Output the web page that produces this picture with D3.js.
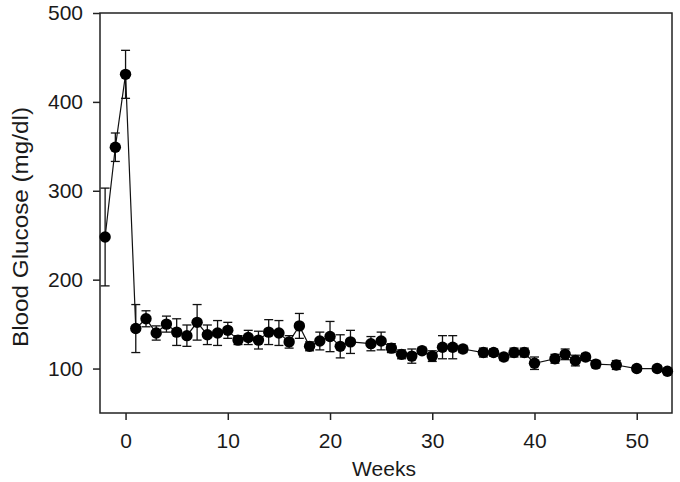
<!DOCTYPE html>
<html>
<head>
<meta charset="utf-8">
<script src="https://cdn.jsdelivr.net/npm/d3@7"></script>
<style>
  body { margin: 0; background: #fff; }
  text { font-family: "Liberation Sans", Arial, sans-serif; fill: #1a1a1a; }
</style>
</head>
<body>
<div id="wrapper"></div>
<script>
// weeks relative to treatment start
let weeks = [-2, -1, 0, 1, 2, 3, 4, 5, 6, 7, 8, 9, 10, 11, 12, 13, 14, 15, 16, 17, 18, 19, 20, 21, 22,
             24, 25, 26, 27, 28, 29, 30, 31, 32, 33, 35, 36, 37, 38, 39, 40, 42, 43, 44, 45, 46, 48, 50, 52, 53];
let glucose = [248, 349, 431, 145, 156, 140, 150, 141, 137, 152, 138, 140, 143, 132, 135, 132, 141, 140, 130, 148, 125, 131, 136, 125, 130,
               128, 131, 123, 116, 114, 120, 114, 124, 124, 122, 118, 118, 113, 118, 118, 106, 111, 116, 109, 113, 105, 104, 100, 100, 97];
let sem = [55, 16, 27, 27, 9, 8, 9, 15, 12, 20, 11, 14, 9, 5, 8, 10, 14, 14, 7, 14, 5, 10, 17, 13, 13,
           8, 10, 5, 5, 8, 4, 6, 13, 13, 4, 5, 4, 4, 5, 5, 7, 5, 6, 6, 4, 4, 5, 3, 3, 3];
let xTicks = [0, 10, 20, 30, 40, 50];
let yTicks = [100, 200, 300, 400, 500];

let data = weeks.map((w, i) => ({week: w, val: glucose[i], err: sem[i]}));

let W = 680, H = 482;
let margin = {left: 100, right: 8, top: 13, bottom: 69};

let svg = d3.select('#wrapper').append('svg').attr('width', W).attr('height', H);

let xScale = d3.scaleLinear().domain([-2.5, 53.45]).range([margin.left, W - margin.right]);
let yScale = d3.scaleLinear().domain([50, 500]).range([H - margin.bottom, margin.top]);

// frame
svg.append('rect')
  .attr('x', margin.left).attr('y', margin.top)
  .attr('width', W - margin.right - margin.left)
  .attr('height', H - margin.bottom - margin.top)
  .attr('fill', 'none').attr('stroke', '#222').attr('stroke-width', 1.5);

let xAxis = svg.append('g')
  .attr('transform', 'translate(0,' + (H - margin.bottom) + ')')
  .call(d3.axisBottom(xScale).tickValues(xTicks).tickSize(7).tickPadding(13));
let yAxis = svg.append('g')
  .attr('transform', 'translate(' + margin.left + ',0)')
  .call(d3.axisLeft(yScale).tickValues(yTicks).tickSize(7).tickPadding(10));

[xAxis, yAxis].forEach(a => {
  a.select('.domain').remove();
  a.selectAll('line').attr('stroke', '#222').attr('stroke-width', 1.5);
  a.selectAll('text').style('font-size', '21px').attr('fill', '#1a1a1a')
   .style('font-family', '"Liberation Sans", Arial, sans-serif');
});

// axis titles
svg.append('text').text('Weeks')
  .attr('x', (margin.left + W - margin.right) / 2 - 2).attr('y', 476)
  .attr('text-anchor', 'middle').style('font-size', '21px');
svg.append('text').text('Blood Glucose (mg/dl)')
  .attr('transform', 'translate(28,' + ((margin.top + H - margin.bottom) / 2 + 14) + ') rotate(-90)')
  .attr('text-anchor', 'middle').style('font-size', '22px')
  .attr('textLength', 240).attr('lengthAdjust', 'spacingAndGlyphs');

let plot = svg.append('g');

// connecting line
let lineGen = d3.line().x(d => xScale(d.week)).y(d => yScale(d.val));
plot.append('path').datum(data)
  .attr('d', lineGen).attr('fill', 'none').attr('stroke', '#111').attr('stroke-width', 1.2);

// error bars
let bars = plot.selectAll('.err').data(data).enter().append('g').classed('err', true);
bars.append('line')
  .attr('x1', d => xScale(d.week)).attr('x2', d => xScale(d.week))
  .attr('y1', d => yScale(d.val + d.err)).attr('y2', d => yScale(d.val - d.err));
bars.append('line')
  .attr('x1', d => xScale(d.week) - 4.5).attr('x2', d => xScale(d.week) + 4.5)
  .attr('y1', d => yScale(d.val + d.err)).attr('y2', d => yScale(d.val + d.err));
bars.append('line')
  .attr('x1', d => xScale(d.week) - 4.5).attr('x2', d => xScale(d.week) + 4.5)
  .attr('y1', d => yScale(d.val - d.err)).attr('y2', d => yScale(d.val - d.err));
bars.selectAll('line').attr('stroke', '#111').attr('stroke-width', 1.3);

// markers
plot.selectAll('.pt').data(data).enter().append('circle').classed('pt', true)
  .attr('cx', d => xScale(d.week)).attr('cy', d => yScale(d.val))
  .attr('r', 5.7).attr('fill', '#000');
</script>
</body>
</html>
